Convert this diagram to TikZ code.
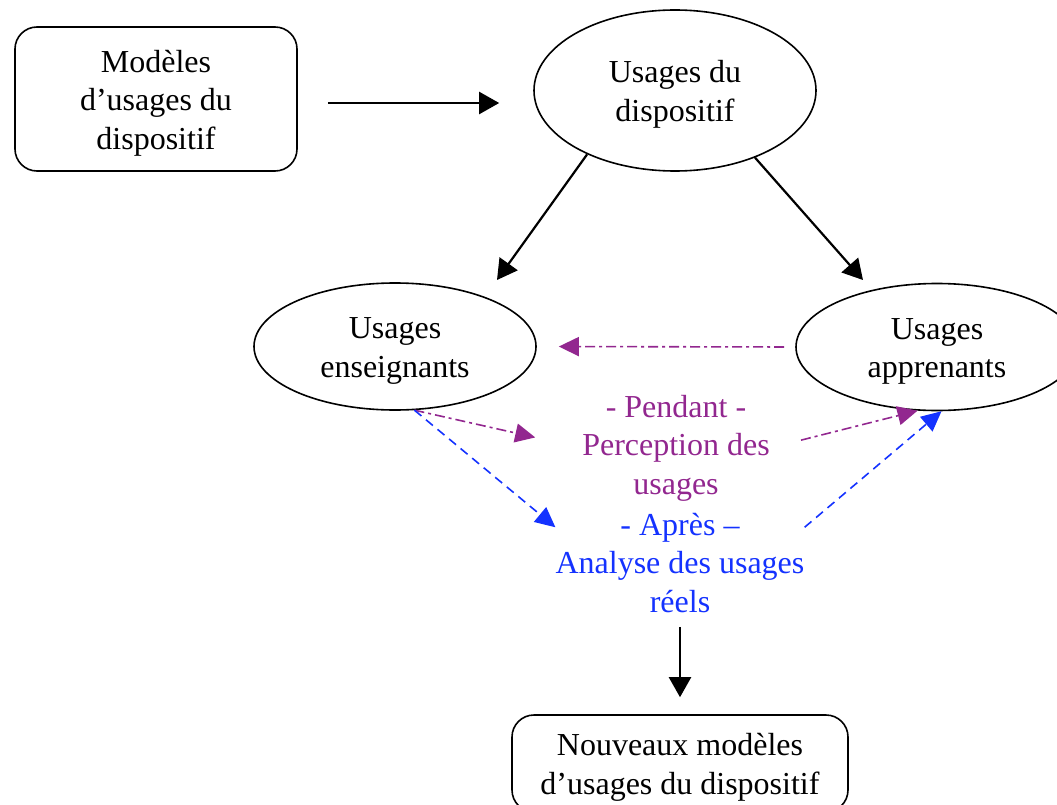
\documentclass[tikz,border=0pt]{standalone}
\usepackage{fontspec}
\setmainfont{Liberation Serif}
\usepackage{tikz}
\usetikzlibrary{arrows.meta,shapes.geometric,positioning,calc}
\definecolor{violet}{RGB}{146,39,143}
\definecolor{bleu}{RGB}{20,50,255}
\newcommand{\hautstrut}{\rule{0pt}{30pt}}
\tikzset{ % Standard box and line style
    block/.style={rectangle, draw, line width=1.6pt, rounded corners=22pt, align=center, inner sep=0pt},
    usage/.style={ellipse, draw, line width=1.6pt, align=center, inner sep=0pt, minimum width=282pt},
    line/.style={draw, line width=2.2pt, -{Triangle[length=20pt,width=22pt]}},
    pline/.style={draw=violet, line width=1.6pt, dash pattern=on 10pt off 4pt on 3pt off 4pt, -{Triangle[length=20pt,width=19pt]}, violet},
    bline/.style={draw=bleu, line width=1.6pt, dash pattern=on 9pt off 6pt, -{Triangle[length=20pt,width=19pt]}, bleu}
}
\begin{document}
\begin{tikzpicture}[x=1pt, y=-1pt, every node/.style={font=\fontsize{32}{38.5}\selectfont}]
	\useasboundingbox (0,0) rectangle (1057,805);
	%Nodes
	\node[block, minimum width=282pt, minimum height=144pt] (mod) at (156,99) {\hautstrut Modèles\\d’usages du\\dispositif};
	\node[usage, minimum height=161pt] (udisp) at (675,90.5) {\hautstrut Usages du\\dispositif};
	\node[usage, minimum height=127pt] (ens) at (395,346.5) {\hautstrut Usages\\enseignants};
	\node[usage, minimum height=127pt] (app) at (937,347) {\hautstrut Usages\\apprenants};
	\node[align=center, inner sep=0pt, text=violet] (pendant) at (676,448) {- Pendant -\\Perception des\\usages};
	\node[align=center, inner sep=0pt, text=bleu] (apres) at (680,563) {- Après –\\Analyse des usages\\réels};
	\node[block, minimum width=336pt, minimum height=97pt] (nouv) at (680,763.5) {\hautstrut Nouveaux modèles\\d’usages du dispositif};
	\coordinate (ens-in) at (497,280);
	\coordinate (app-in) at (863,280);
	%Edges
	\draw[line, shorten <=30pt, shorten >=34pt] ([yshift=-4pt]mod.east) -- ([yshift=-4pt]mod.east -| udisp.west);
	\draw[line] (udisp.216) -- (ens-in);
	\draw[line] (udisp.320) -- (app-in);
	\draw[pline, shorten <=11pt, shorten >=22pt] (app.west) -- (ens.east);
	\draw[pline, shorten >=48pt] (ens.287) -- (pendant.west);
	\draw[pline, shorten <=32pt] (pendant.east) -- (app.253);
	\draw[bline] (ens.287) -- (apres.164);
	\draw[bline] (apres.16) -- (app.274);
	\draw[line, shorten <=14pt, shorten >=17pt] (apres.south) -- (nouv.north);
\end{tikzpicture}
\end{document}
